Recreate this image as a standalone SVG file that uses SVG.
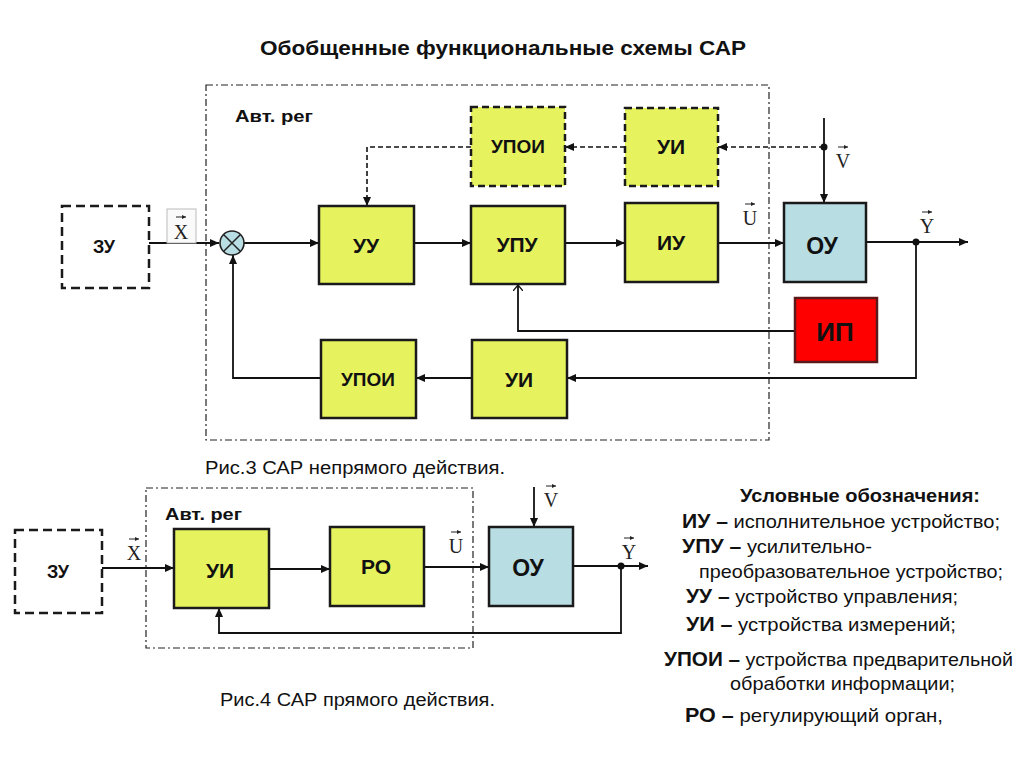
<svg xmlns="http://www.w3.org/2000/svg" width="1024" height="767" viewBox="0 0 1024 767">
<defs>
<style>
.bg{fill:#ffffff}
.blk{fill:#e6f35f;stroke:#1a1a1a;stroke-width:2.5}
.blkd{fill:#e6f35f;stroke:#1a1a1a;stroke-width:2.5;stroke-dasharray:7,4}
.ou{fill:#b8dde3;stroke:#1a1a1a;stroke-width:2.5}
.zu{fill:#ffffff;stroke:#1a1a1a;stroke-width:2.5;stroke-dasharray:9,5}
.frame{fill:none;stroke:#222;stroke-width:1.2;stroke-dasharray:7,3,2,3}
.ln{fill:none;stroke:#111;stroke-width:1.8}
.lnd{fill:none;stroke:#111;stroke-width:1.6;stroke-dasharray:5,3}
.lbl{font-family:"Liberation Sans",Arial,sans-serif;font-weight:bold;fill:#111;text-anchor:middle}
.vec{font-family:"Liberation Serif","Times New Roman",serif;fill:#222;font-size:20px;text-anchor:middle}
.cap{font-family:"Liberation Sans",Arial,sans-serif;fill:#111;font-size:18px}
.leg{font-family:"Liberation Sans",Arial,sans-serif;fill:#111;font-size:19px}
.legb{font-weight:bold;font-size:20px}
.va{fill:none;stroke:#222;stroke-width:1}
.reg{font-family:"Liberation Sans",Arial,sans-serif;font-weight:bold;font-size:17px;fill:#111}
</style>
<marker id="arr" markerWidth="10" markerHeight="8" refX="9" refY="4" orient="auto" markerUnits="userSpaceOnUse">
<path d="M0,0 L9,4 L0,8 Z" fill="#111"/>
</marker>
<marker id="open" markerWidth="12" markerHeight="10" refX="6" refY="5" orient="auto" markerUnits="userSpaceOnUse">
<path d="M0,0 L6,5 L0,10" fill="none" stroke="#111" stroke-width="1.3"/>
</marker>
<marker id="va" markerWidth="5" markerHeight="4" refX="4" refY="2" orient="auto" markerUnits="userSpaceOnUse">
<path d="M0,0 L4,2 L0,4 Z" fill="#222"/>
</marker>
</defs>
<rect class="bg" x="0" y="0" width="1024" height="767"/>

<text x="503" y="55" class="lbl" font-size="20" textLength="486" lengthAdjust="spacingAndGlyphs">Обобщенные функциональные схемы САР</text>

<!-- frames -->
<g id="frame-top">
<rect class="frame" x="206" y="85" width="563" height="355"/>
<text x="235" y="122" class="reg" textLength="78" lengthAdjust="spacingAndGlyphs">Авт. рег</text>
</g>
<g id="frame-bottom">
<rect class="frame" x="146" y="488" width="327" height="160"/>
<text x="165" y="520" class="reg" textLength="77" lengthAdjust="spacingAndGlyphs">Авт. рег</text>
</g>

<!-- connectors -->
<g id="connectors">
<path class="ln" d="M149,243 H219" marker-end="url(#arr)"/>
<path class="ln" d="M244,243 H319" marker-end="url(#arr)"/>
<path class="ln" d="M414,243 H471" marker-end="url(#arr)"/>
<path class="ln" d="M565,243 H625" marker-end="url(#arr)"/>
<path class="ln" d="M718,243 H784" marker-end="url(#arr)"/>
<path class="ln" d="M866,242 H968" marker-end="url(#arr)"/>
<path class="ln" d="M824,118 V203" marker-end="url(#arr)"/>
<path class="lnd" d="M824,147 H718" marker-end="url(#arr)"/>
<path class="lnd" d="M625,147 H565" marker-end="url(#arr)"/>
<path class="lnd" d="M471,147 H367 V206" marker-end="url(#arr)"/>
<path class="ln" d="M916,242 V378 H567" marker-end="url(#arr)"/>
<path class="ln" d="M472,378 H416" marker-end="url(#arr)"/>
<path class="ln" d="M321,378 H233 V255" marker-end="url(#arr)"/>
<path class="ln" stroke-width="1.3" d="M795,331 H518 V285" marker-end="url(#open)"/>
<circle cx="916" cy="242" r="3.5" fill="#111"/>
<circle cx="824" cy="147" r="3.5" fill="#111"/>

<path class="ln" d="M102,568 H174" marker-end="url(#arr)"/>
<path class="ln" d="M269,569 H330" marker-end="url(#arr)"/>
<path class="ln" d="M424,567 H489" marker-end="url(#arr)"/>
<path class="ln" d="M534,487 V527" marker-end="url(#arr)"/>
<path class="ln" d="M573,566 H648" marker-end="url(#arr)"/>
<path class="ln" d="M621,566 V633 H219 V608" marker-end="url(#arr)"/>
<circle cx="621" cy="566" r="3.5" fill="#111"/>
</g>

<!-- vector labels -->
<g id="vectors">
<rect x="167" y="209" width="29" height="34" fill="#fafafa" stroke="#bbb" stroke-width="1"/>
<text x="181" y="239" class="vec">X</text>
<path class="va" d="M176,217 H186" marker-end="url(#va)"/>
<text x="843" y="168" class="vec">V</text>
<path class="va" d="M838,147 H848" marker-end="url(#va)"/>
<text x="750" y="225" class="vec">U</text>
<path class="va" d="M745,204 H755" marker-end="url(#va)"/>
<text x="927" y="233" class="vec">Y</text>
<path class="va" d="M922,212 H932" marker-end="url(#va)"/>

<text x="134" y="560" class="vec">X</text>
<path class="va" d="M129,539 H139" marker-end="url(#va)"/>
<text x="551" y="507" class="vec">V</text>
<path class="va" d="M546,486 H556" marker-end="url(#va)"/>
<text x="456" y="553" class="vec">U</text>
<path class="va" d="M451,532 H461" marker-end="url(#va)"/>
<text x="629" y="559" class="vec">Y</text>
<path class="va" d="M624,538 H634" marker-end="url(#va)"/>
</g>

<!-- top nodes -->
<g id="zu1"><rect class="zu" x="62" y="206" width="87" height="82"/><text x="104" y="253" class="lbl" font-size="18">ЗУ</text></g>
<g id="sum"><circle cx="232" cy="243" r="12" fill="#b8dde3" stroke="#222" stroke-width="1.6"/><path d="M223.5,234.5 L240.5,251.5 M240.5,234.5 L223.5,251.5" stroke="#222" stroke-width="1.5"/></g>
<g id="uu"><rect class="blk" x="319" y="206" width="95" height="78"/><text x="366" y="253" class="lbl" font-size="21">УУ</text></g>
<g id="upu"><rect class="blk" x="471" y="206" width="94" height="78"/><text x="517" y="252" class="lbl" font-size="21">УПУ</text></g>
<g id="iu"><rect class="blk" x="625" y="203" width="93" height="79"/><text x="671" y="250" class="lbl" font-size="21">ИУ</text></g>
<g id="ou1"><rect class="ou" x="784" y="203" width="82" height="79"/><text x="822" y="254" class="lbl" font-size="23">ОУ</text></g>
<g id="upoi-top"><rect class="blkd" x="471" y="107" width="94" height="79"/><text x="518" y="153" class="lbl" font-size="19">УПОИ</text></g>
<g id="ui-top"><rect class="blkd" x="625" y="108" width="93" height="78"/><text x="671" y="154" class="lbl" font-size="21">УИ</text></g>
<g id="ip"><rect x="795" y="298" width="82" height="64" fill="#ff0000" stroke="#5a1a1a" stroke-width="2.5"/><text x="835" y="341" class="lbl" font-size="26">ИП</text></g>
<g id="upoi-bot"><rect class="blk" x="321" y="340" width="95" height="78"/><text x="368" y="386" class="lbl" font-size="19">УПОИ</text></g>
<g id="ui-bot"><rect class="blk" x="472" y="340" width="95" height="78"/><text x="519" y="387" class="lbl" font-size="21">УИ</text></g>

<text x="205" y="474" class="cap" textLength="300" lengthAdjust="spacingAndGlyphs">Рис.3 САР непрямого действия.</text>

<!-- bottom nodes -->
<g id="zu2"><rect class="zu" x="15" y="530" width="87" height="83"/><text x="58" y="578" class="lbl" font-size="18">ЗУ</text></g>
<g id="ui2"><rect class="blk" x="174" y="529" width="95" height="79"/><text x="220" y="578" class="lbl" font-size="21">УИ</text></g>
<g id="ro"><rect class="blk" x="330" y="527" width="94" height="79"/><text x="376" y="574" class="lbl" font-size="21">РО</text></g>
<g id="ou2"><rect class="ou" x="489" y="527" width="84" height="79"/><text x="528" y="576" class="lbl" font-size="23">ОУ</text></g>

<text x="220" y="706" class="cap" textLength="275" lengthAdjust="spacingAndGlyphs">Рис.4 САР прямого действия.</text>

<!-- legend -->
<g id="legend" class="leg">
<text x="740" y="502" font-weight="bold" font-size="19" textLength="240" lengthAdjust="spacingAndGlyphs">Условные обозначения:</text>
<text x="682" y="528" textLength="318" lengthAdjust="spacingAndGlyphs"><tspan class="legb">ИУ –</tspan> исполнительное устройство;</text>
<text x="682" y="553" textLength="190" lengthAdjust="spacingAndGlyphs"><tspan class="legb">УПУ –</tspan> усилительно-</text>
<text x="699" y="578" textLength="304" lengthAdjust="spacingAndGlyphs">преобразовательное устройство;</text>
<text x="686" y="603" textLength="272" lengthAdjust="spacingAndGlyphs"><tspan class="legb">УУ –</tspan> устройство управления;</text>
<text x="686" y="631" textLength="270" lengthAdjust="spacingAndGlyphs"><tspan class="legb">УИ –</tspan> устройства измерений;</text>
<text x="664" y="666" textLength="349" lengthAdjust="spacingAndGlyphs"><tspan class="legb">УПОИ –</tspan> устройства предварительной</text>
<text x="730" y="690" textLength="225" lengthAdjust="spacingAndGlyphs">обработки информации;</text>
<text x="685" y="722" textLength="258" lengthAdjust="spacingAndGlyphs"><tspan class="legb">РО –</tspan> регулирующий орган,</text>
</g>
</svg>
